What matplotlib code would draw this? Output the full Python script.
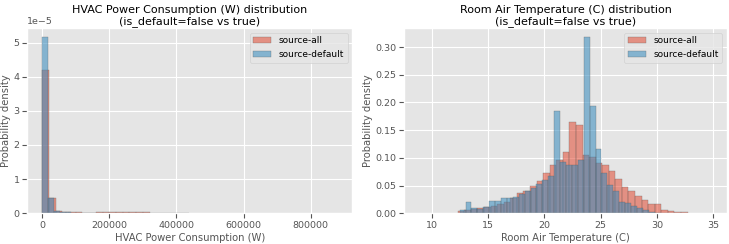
import numpy as np
import matplotlib
matplotlib.use("Agg")
import matplotlib.pyplot as plt

plt.style.use("ggplot")
plt.rcParams['font.family'] = ['DejaVu Sans']

# ---- HVAC power (W) histogram densities ----
hvac_all_start = 0.0
hvac_all_width = 20000.0
hvac_all_density = [4.21e-5, 0.447e-5, 0.07e-5, 0.04e-5, 0.03e-5, 0.025e-5, 0.02e-5,
                    0.02e-5, 0.025e-5, 0.035e-5, 0.03e-5, 0.03e-5, 0.03e-5, 0.035e-5,
                    0.03e-5, 0.025e-5]
hvac_def_start = 0.0
hvac_def_width = 17500.0
hvac_def_density = [5.16e-5, 0.45e-5, 0.076e-5, 0.04e-5, 0.03e-5, 0.02e-5, 0.015e-5,
                    0.012e-5, 0.01e-5, 0.012e-5, 0.015e-5, 0.012e-5, 0.01e-5, 0.008e-5,
                    0.006e-5, 0.005e-5, 0.004e-5, 0.004e-5, 0.003e-5, 0.003e-5, 0.002e-5,
                    0.002e-5, 0.002e-5, 0.002e-5, 0.001e-5]

# ---- Room air temperature (C) histogram densities ----
temp_all_start = 12.31
temp_all_width = 0.583
temp_all_density = [0.004, 0.006, 0.008, 0.009, 0.012, 0.014, 0.017, 0.021, 0.027,
                    0.037, 0.041, 0.049, 0.058, 0.072, 0.088, 0.097, 0.110, 0.165,
                    0.159, 0.105, 0.102, 0.090, 0.088, 0.077, 0.062, 0.048, 0.040,
                    0.031, 0.024, 0.017, 0.017, 0.005, 0.004, 0.0025, 0.0018]
temp_def_start = 12.47
temp_def_width = 0.525
temp_def_density = [0.006, 0.020, 0.0095, 0.008, 0.012, 0.022, 0.022, 0.028, 0.027,
                    0.030, 0.034, 0.040, 0.046, 0.052, 0.060, 0.067, 0.184, 0.093,
                    0.088, 0.088, 0.097, 0.318, 0.194, 0.116, 0.072, 0.051, 0.040,
                    0.021, 0.018, 0.013, 0.009, 0.005, 0.002, 0.001]

labels = ["source-all", "source-default"]
colors = ["#E24A33", "#348ABD"]


def draw(ax, start, width, dens, color, label):
    dens = np.asarray(dens)
    edges = start + width * np.arange(len(dens) + 1)
    ax.hist(edges[:-1], bins=edges, weights=dens, color=color, alpha=0.55,
            edgecolor="#555555", linewidth=0.35, label=label)


fig = plt.figure(figsize=(7.29, 2.44), dpi=100)
ax1 = fig.add_axes([0.0375, 0.126, 0.4455, 0.758])
ax2 = fig.add_axes([0.5546, 0.126, 0.4424, 0.758])

draw(ax1, hvac_all_start, hvac_all_width, hvac_all_density, colors[0], labels[0])
draw(ax1, hvac_def_start, hvac_def_width, hvac_def_density, colors[1], labels[1])
ax1.set_xlim(-43900, 922800)
ax1.set_title("HVAC Power Consumption (W) distribution\n(is_default=false vs true)",
              fontsize=8, pad=3, linespacing=1.1)
ax1.set_xlabel("HVAC Power Consumption (W)", fontsize=7.2, labelpad=2)
ax1.set_ylabel("Probability density", fontsize=7.2, labelpad=2)

draw(ax2, temp_all_start, temp_all_width, temp_all_density, colors[0], labels[0])
draw(ax2, temp_def_start, temp_def_width, temp_def_density, colors[1], labels[1])
ax2.set_xlim(7.56, 36.2)
ax2.set_title("Room Air Temperature (C) distribution\n(is_default=false vs true)",
              fontsize=8, pad=3, linespacing=1.1)
ax2.set_xlabel("Room Air Temperature (C)", fontsize=7.2, labelpad=2)
ax2.set_ylabel("Probability density", fontsize=7.2, labelpad=2)

for ax in (ax1, ax2):
    ax.tick_params(labelsize=6.8, pad=2)
    ax.yaxis.get_offset_text().set_fontsize(6.8)
    ax.legend(loc="upper right", fontsize=6.5)

fig.savefig("out.png", dpi=100)
